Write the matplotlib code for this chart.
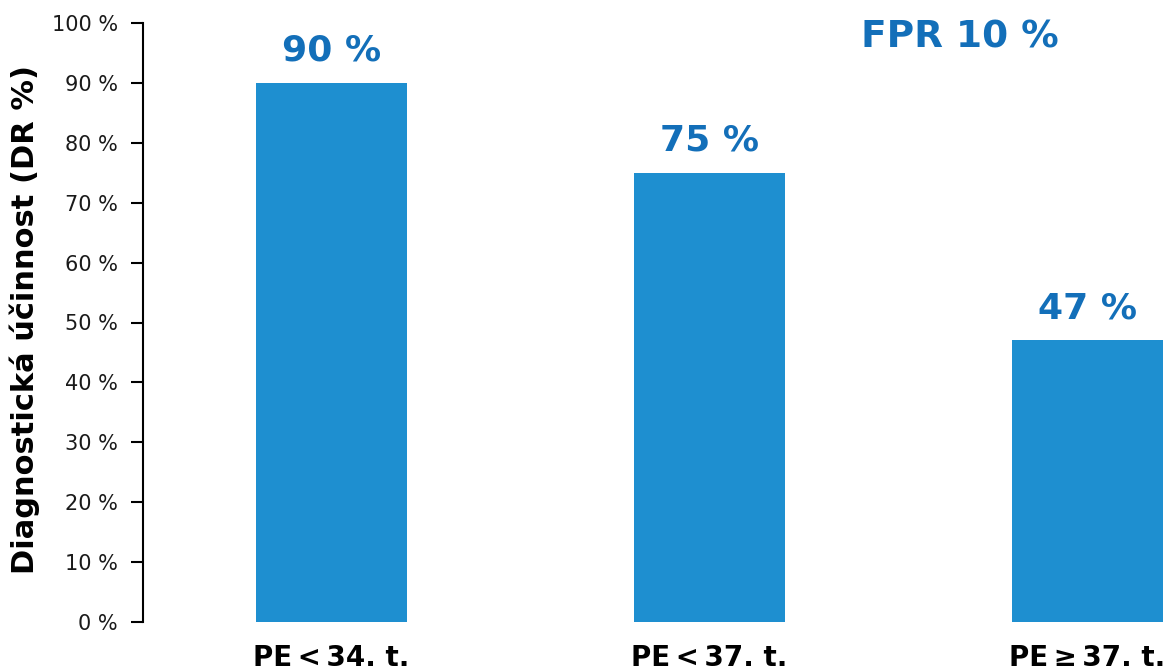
import matplotlib
matplotlib.use("Agg")
import matplotlib.pyplot as plt

categories = ["PE\u2009<\u200934. t.", "PE\u2009<\u200937. t.", "PE\u2009\u2265\u200937. t."]
values = [90, 75, 47]
value_labels = ["90 %", "75 %", "47 %"]
yticks = [0, 10, 20, 30, 40, 50, 60, 70, 80, 90, 100]
ytick_labels = [f"{v} %" for v in yticks]

bar_color = "#1E8FD0"
label_color = "#136FB9"

fig = plt.figure(figsize=(11.68, 6.71), dpi=100)
ax = fig.add_axes([143/1168, 1-622/671, 1-143/1168, (622-23)/671])
x = list(range(len(values)))
ax.bar(x, values, width=0.4, color=bar_color)
ax.set_xlim(-0.499, 2.213)
ax.set_ylim(0, 100)
for s in ["top", "right", "bottom"]:
    ax.spines[s].set_visible(False)
ax.spines["left"].set_linewidth(1.5)
ax.set_yticks(yticks)
ax.set_yticklabels(ytick_labels, fontsize=15, color="#1a1a1a")
ax.tick_params(axis="y", length=9, width=1.5, pad=9)
ax.set_xticks(x)
ax.set_xticklabels(categories, fontsize=20, fontweight="bold")
ax.tick_params(axis="x", length=0, pad=16)

fig.text(25/1168, 1-320/671, "Diagnostická účinnost (DR %)", rotation=90,
         ha="center", va="center", fontsize=22, fontweight="bold")

for xi, v, lab in zip(x, values, value_labels):
    ax.annotate(lab, (xi, v), xytext=(0, 11), textcoords="offset points",
                ha="center", va="bottom", fontsize=26, fontweight="bold", color=label_color)

fig.text(960/1168, 1-38/671, "FPR 10 %", ha="center", va="center", fontsize=27,
         fontweight="bold", color=label_color)

fig.savefig("out.png", dpi=100)
